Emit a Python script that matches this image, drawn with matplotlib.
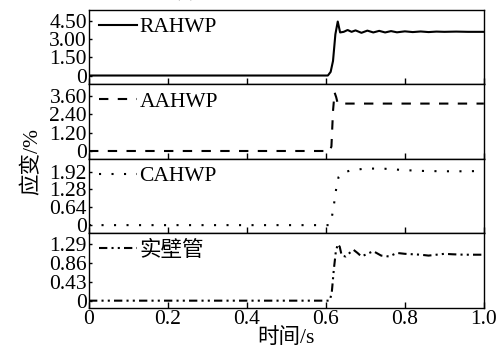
import matplotlib
matplotlib.use("Agg")
import matplotlib.pyplot as plt
import numpy as np

plt.rcParams['font.family'] = ['Liberation Serif', 'Noto Sans CJK SC']
plt.rcParams['mathtext.fontset'] = 'stix'

# Time axis samples (s)
t_rahwp = [0, 0.605, 0.612, 0.618, 0.624, 0.630, 0.636, 0.645, 0.655, 0.665, 0.675,
           0.690, 0.705, 0.720, 0.735, 0.750, 0.765, 0.780, 0.800, 0.820, 0.840,
           0.860, 0.880, 0.900, 0.930, 0.960, 1.0]
v_rahwp = [0, 0, 0.3, 1.2, 3.4, 4.45, 3.55, 3.6, 3.75, 3.6, 3.72,
           3.52, 3.7, 3.55, 3.68, 3.55, 3.66, 3.56, 3.64, 3.58, 3.63,
           3.58, 3.62, 3.6, 3.62, 3.6, 3.6]

t_aahwp = [0, 0.610, 0.614, 0.618, 0.622, 0.626, 0.630, 0.636, 1.0]
v_aahwp = [0, 0, 0.3, 2.6, 3.8, 3.5, 3.08, 3.08, 3.08]

t_cahwp = [0, 0.608, 0.614, 0.620, 0.626, 0.632, 0.640, 0.660, 0.700, 0.750, 0.800,
           0.850, 0.900, 0.950, 1.0]
v_cahwp = [0, 0, 0.2, 0.7, 1.3, 1.72, 1.86, 1.95, 2.03, 2.02, 1.97,
           1.94, 1.93, 1.93, 1.94]

t_solid = [0, 0.610, 0.615, 0.620, 0.625, 0.630, 0.635, 0.640, 0.650, 0.660, 0.670,
           0.680, 0.690, 0.700, 0.720, 0.740, 0.760, 0.780, 0.800, 0.820, 0.840,
           0.860, 0.880, 0.900, 0.920, 0.950, 1.0]
v_solid = [0, 0, 0.2, 0.7, 1.1, 1.28, 1.22, 1.02, 1.0, 1.08, 1.15,
           1.08, 1.0, 1.04, 1.12, 1.02, 1.0, 1.08, 1.06, 1.05, 1.04,
           1.02, 1.04, 1.06, 1.05, 1.04, 1.04]

labels = ['RAHWP', 'AAHWP', 'CAHWP', '实壁管']
yticks = [[0, 1.5, 3.0, 4.5], [0, 1.2, 2.4, 3.6], [0, 0.64, 1.28, 1.92], [0, 0.43, 0.86, 1.29]]
yticklabels = [['0', '1.50', '3.00', '4.50'], ['0', '1.20', '2.40', '3.60'],
               ['0', '0.64', '1.28', '1.92'], ['0', '0.43', '0.86', '1.29']]
ylims = [(-0.74, 5.4), (-0.52, 4.32), (-0.3, 2.37), (-0.166, 1.52)]
xticks = [0, 0.2, 0.4, 0.6, 0.8, 1.0]
xticklabels = ['0', '0.2', '0.4', '0.6', '0.8', '1.0']

series = [(t_rahwp, v_rahwp), (t_aahwp, v_aahwp), (t_cahwp, v_cahwp), (t_solid, v_solid)]
styles = ['-', (0, (4.5, 4.5)), (0, (1, 5)), (0, (4, 2, 1, 2, 1, 2))]

fig = plt.figure(figsize=(5.04, 3.52), dpi=100)
fig.subplots_adjust(left=0.1766, right=0.960, bottom=0.125, top=0.9716, hspace=0)
axes = fig.subplots(4, 1, sharex=True)

fs = 15.5
for i, ax in enumerate(axes):
    t, v = series[i]
    ax.plot(t, v, color='black', lw=1.5, linestyle=styles[i], label=labels[i])
    ax.set_xlim(0, 1.0)
    ax.set_ylim(*ylims[i])
    ax.set_yticks(yticks[i])
    ax.set_yticklabels(yticklabels[i])
    ax.set_xticks(xticks)
    ax.tick_params(direction='in', length=4, labelsize=fs, pad=1.5, width=1)
    ax.tick_params(axis='y', length=2.5)
    for s in ax.spines.values():
        s.set_linewidth(1)
    ax.legend(loc='upper left', frameon=False, fontsize=fs,
              handlelength=1.75, handletextpad=0.12,
              borderaxespad=0.0, borderpad=0.1,
              bbox_to_anchor=(0.02, 0.93))

axes[-1].set_xticklabels(xticklabels)
axes[-1].set_xlabel('时间/s', fontsize=fs, labelpad=-1)
fig.supylabel('应变/%', fontsize=fs, x=0.045, y=0.54)

# Panel heading sits at the very top edge of the figure
fig.text(0.5, 1.028, '(c) 轴向应变响应', ha='center', va='center', fontsize=fs)

fig.savefig('out.png', dpi=100)
